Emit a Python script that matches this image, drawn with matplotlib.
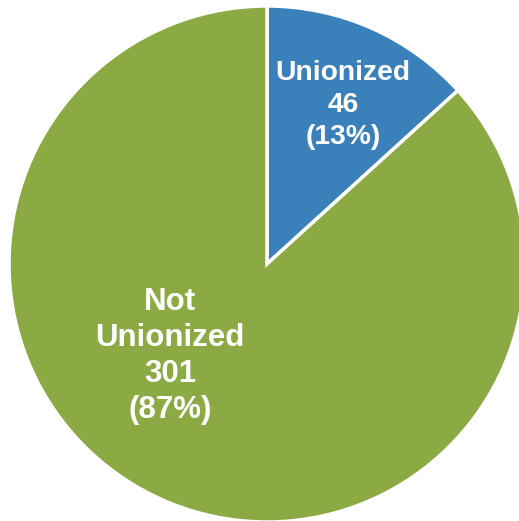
import matplotlib
matplotlib.use("Agg")
from matplotlib import pyplot as plt

# data
labels = ["Unionized", "Not\nUnionized"]
counts = [46, 301]
colors = ["#3A80BA", "#8BAA43"]

fig = plt.figure(figsize=(5.19, 5.21), dpi=100)
ax = fig.add_axes([0, 0, 1, 1])

total = sum(counts)
wedges, _ = ax.pie(counts, colors=colors, startangle=90, counterclock=False,
                   center=(267, 257), radius=258, frame=True,
                   wedgeprops=dict(edgecolor="white", linewidth=2.5))

ax.set_xlim(0, 519)
ax.set_ylim(0, 521)
ax.set_aspect("equal")
ax.axis("off")

# label positions in pixel space (y from top) and sizes
label_pos = [(343, 105), (170, 356)]
label_size = [20.3, 22.5]
label_spacing = [1.3, 1.25]
for lab, n, (x, y), fs, ls in zip(labels, counts, label_pos, label_size, label_spacing):
    pct = round(100 * n / total)
    ax.text(x, 521 - y, f"{lab}\n{n}\n({pct}%)", ha="center", va="center",
            color="white", fontsize=fs, fontweight="bold",
            family="Liberation Sans", linespacing=ls)

fig.savefig("out.png", dpi=100)
